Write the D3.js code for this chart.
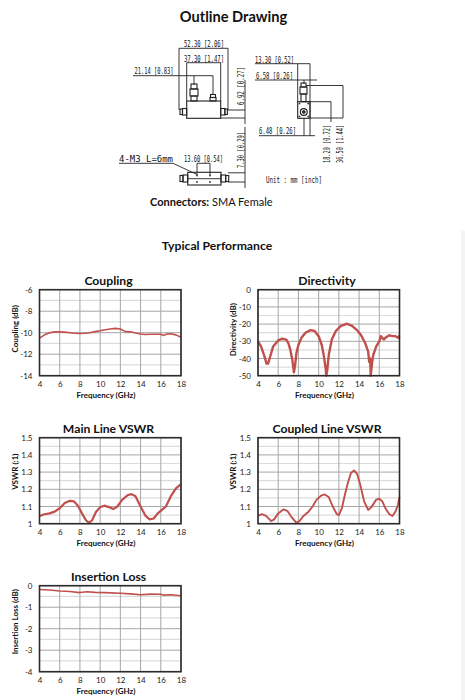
<!DOCTYPE html>
<html>
<head>
<meta charset="utf-8">
<script src="https://cdn.jsdelivr.net/npm/d3@7"></script>
<style>
  html, body { margin: 0; padding: 0; background: #fff; }
  svg { display: block; }
  text { font-family: Lato, "Open Sans", sans-serif; fill: #111; }
  .tick text { font-size: 8px; fill: #222; font-weight: 400; }
  .dim { font-family: "DejaVu Sans Mono", monospace; font-size: 8.5px; fill: #111; }
</style>
</head>
<body>
<script>
var width = 465,
    height = 700;

var freqTicks = [4, 6, 8, 10, 12, 14, 16, 18];

var couplingFreq = [4, 4.5, 5, 5.5, 6, 6.5, 7, 7.5, 8, 8.5, 9, 9.5, 10, 10.5, 11, 11.5, 12, 12.5, 13, 13.5, 14, 14.5, 15, 15.5, 16, 16.3, 16.6, 17, 17.5, 18];
var couplingValues = [-10.5, -10.2, -10.0, -9.92, -9.92, -9.95, -10.0, -10.05, -10.07, -10.05, -10.0, -9.9, -9.82, -9.72, -9.65, -9.6, -9.65, -9.9, -9.92, -10.02, -10.12, -10.17, -10.15, -10.15, -10.15, -10.25, -10.12, -10.1, -10.2, -10.42];

var directivityFreq = [4, 4.3, 4.6, 4.85, 5, 5.2, 5.5, 6, 6.4, 6.8, 7, 7.2, 7.4, 7.55, 7.65, 7.8, 8, 8.3, 8.7, 9.2, 9.6, 10, 10.3, 10.5, 10.7, 10.75, 10.85, 11, 11.3, 11.7, 12.2, 12.8, 13.3, 13.8, 14.2, 14.6, 14.9, 15, 15.1, 15.15, 15.3, 15.4, 15.7, 16, 16.15, 16.3, 16.45, 16.6, 17, 17.3, 17.6, 17.85, 18];
var directivityValues = [-30, -33, -38, -43, -43, -39, -33, -29.5, -28.5, -29, -31, -35, -41, -48, -45, -37, -32, -28, -25, -23.5, -24, -27, -32, -38, -46, -50, -47, -38, -29, -24, -21, -19.8, -21, -23.5, -26.5, -31, -36, -42, -40, -50, -42, -38, -33, -30, -27, -28, -29, -28, -26.5, -27, -27, -28, -26.5];

var mainFreq = [4, 4.5, 5, 5.5, 6, 6.5, 7, 7.4, 7.8, 8.2, 8.6, 8.9, 9.2, 9.6, 10, 10.4, 10.8, 11.3, 11.7, 12.2, 12.7, 13.1, 13.5, 14, 14.5, 14.9, 15.3, 15.7, 16.2, 16.5, 17, 17.5, 18];
var mainValues = [1.045, 1.055, 1.06, 1.07, 1.09, 1.12, 1.133, 1.13, 1.105, 1.06, 1.02, 1.005, 1.02, 1.07, 1.095, 1.105, 1.098, 1.085, 1.10, 1.14, 1.165, 1.172, 1.16, 1.10, 1.045, 1.025, 1.03, 1.06, 1.085, 1.10, 1.16, 1.205, 1.23];

var coupledFreq = [4, 4.4, 4.8, 5.3, 5.6, 6, 6.5, 6.9, 7.3, 7.8, 8.1, 8.5, 9, 9.4, 9.8, 10.3, 10.6, 11, 11.4, 11.8, 12, 12.3, 12.6, 12.9, 13.2, 13.5, 13.8, 14.1, 14.5, 14.9, 15.2, 15.7, 16, 16.3, 16.6, 17, 17.3, 17.6, 17.85, 18];
var coupledValues = [1.045, 1.055, 1.045, 1.015, 1.025, 1.06, 1.083, 1.075, 1.04, 1.005, 1.015, 1.045, 1.07, 1.10, 1.14, 1.165, 1.17, 1.155, 1.10, 1.055, 1.05, 1.09, 1.17, 1.24, 1.295, 1.31, 1.29, 1.23, 1.13, 1.08, 1.095, 1.14, 1.145, 1.13, 1.09, 1.055, 1.045, 1.07, 1.11, 1.155];

var lossFreq = [4, 5, 6, 7, 8, 8.7, 9.5, 10.5, 12, 13, 14, 15, 16, 16.3, 17, 18];
var lossValues = [-0.18, -0.2, -0.25, -0.27, -0.32, -0.28, -0.31, -0.32, -0.35, -0.38, -0.42, -0.39, -0.4, -0.44, -0.42, -0.47];

var couplingTicks = [-6, -8, -10, -12, -14];
var directivityTicks = [0, -10, -20, -30, -40, -50];
var vswrTicks = [1.5, 1.4, 1.3, 1.2, 1.1, 1];
var lossTicks = [0, -1, -2, -3, -4];

var svg = d3.select("body").append("svg")
    .attr("width", width)
    .attr("height", height);

// strip of the next page panel, right edge
svg.append("rect")
    .attr("x", 461).attr("y", 231)
    .attr("width", 4).attr("height", 469)
    .attr("fill", "#f4f4f4");

function centered(txt, x, y, size, weight) {
  return svg.append("text")
      .attr("x", x).attr("y", y)
      .attr("text-anchor", "middle")
      .attr("font-size", size)
      .attr("font-weight", weight)
      .text(txt);
}

centered("Outline Drawing", 233.5, 22, 14.6, 700);
centered("Typical Performance", 217, 250, 12.2, 700);

var conn = svg.append("text").attr("x", 150).attr("y", 206).attr("font-size", 11);
conn.append("tspan").attr("font-weight", 700).text("Connectors:");
conn.append("tspan").text(" SMA Female");

/* ---- outline drawing ---- */
var drawing = svg.append("g")
    .attr("fill", "none")
    .attr("stroke", "#222")
    .attr("stroke-width", 0.9);

var dimLines = [
  // top view
  [[179, 110], [179, 48.3], [228, 48.3], [228, 110]],
  [[186.7, 101], [186.7, 62.7], [220.7, 62.7], [220.7, 101]],
  [[133, 75.7], [213, 75.7], [213, 95]],
  [[194, 75.7], [194, 85]],
  [[228, 110], [245, 110]],
  [[220.7, 118], [245, 118]],
  [[245, 80], [245, 124]],
  // side view
  [[255, 63.7], [310, 63.7]],
  [[297.7, 63.7], [297.7, 102]],
  [[310, 63.7], [310, 136]],
  [[255, 80], [317, 80]],
  [[304, 80], [304, 84]],
  [[259, 135.7], [315, 135.7]],
  [[304, 118], [304, 135.7]],
  [[306, 101.7], [331, 101.7], [331, 122]],
  [[306, 85.5], [343, 85.5], [343, 118], [310, 118]],
  // bottom view
  [[119, 163.3], [173, 163.3], [197, 174.5]],
  [[197, 175], [197, 163.3], [210, 163.3], [210, 175]],
  [[228, 172.8], [245, 172.8]],
  [[228, 182], [245, 182]],
  [[245, 127], [245, 188]]
];

var dimLine = d3.line();
drawing.selectAll("path.dim-line")
    .data(dimLines)
  .enter().append("path")
    .attr("class", "dim-line")
    .attr("d", dimLine);

// x, y, w, h
var parts = [
  [186.7, 101, 34, 17.3],
  [191, 84, 6, 5],
  [190, 89, 8, 7],
  [191, 96, 6, 5],
  [210.5, 94.5, 5, 3],
  [210, 97.5, 6, 3.5],
  [180, 109, 2.5, 5.5],
  [182.5, 108.5, 4.2, 6.5],
  [220.7, 108.5, 4.2, 6.5],
  [224.9, 109, 2.5, 5.5],
  [301, 83, 5, 4],
  [300, 87, 7, 7],
  [301, 94, 5, 7.7],
  [297.7, 101.7, 12.3, 16.6],
  [187.7, 172.3, 33.3, 12.7],
  [180, 175.5, 3, 6],
  [183, 175, 4.7, 7],
  [221, 175, 4.7, 7],
  [225.7, 175.5, 3, 6]
];

drawing.selectAll("rect")
    .data(parts)
  .enter().append("rect")
    .attr("x", function(d) { return d[0]; })
    .attr("y", function(d) { return d[1]; })
    .attr("width", function(d) { return d[2]; })
    .attr("height", function(d) { return d[3]; })
    .attr("stroke-width", 1.1);

drawing.append("path").attr("d", d3.line()([[187.7, 178.7], [221, 178.7]]));

drawing.append("circle").attr("cx", 303.8).attr("cy", 112).attr("r", 3.4).attr("stroke-width", 1.2);
drawing.append("circle").attr("cx", 303.8).attr("cy", 112).attr("r", 1.4).attr("fill", "#333");

var holes = [[197, 175.5], [210, 175.5], [197, 182], [210, 182], [299.5, 103.5], [308.2, 103.5], [299.5, 116.5], [308.2, 116.5]];
drawing.selectAll("circle.hole")
    .data(holes)
  .enter().append("circle")
    .attr("class", "hole")
    .attr("cx", function(d) { return d[0]; })
    .attr("cy", function(d) { return d[1]; })
    .attr("r", 0.9)
    .attr("fill", "#333")
    .attr("stroke", "none");

// label, x, y, length, rotated
var dimLabels = [
  ["52.30 [2.06]", 184, 47, 40, false],
  ["37.30 [1.47]", 184, 61.5, 40, false],
  ["21.14 [0.83]", 134.5, 74, 39, false],
  ["13.30 [0.52]", 255, 62.5, 39, false],
  ["6.58 [0.26]", 256, 78.5, 37, false],
  ["6.48 [0.26]", 259, 134, 37, false],
  ["13.60 [0.54]", 184, 161.5, 39, false],
  ["4-M3  L=6mm", 119, 161.5, 54, false],
  ["Unit : mm [inch]", 266, 183, 56, false],
  ["6.92 [0.27]", 243.5, 105, 38, true],
  ["7.30 [0.29]", 243.5, 168, 36, true],
  ["18.20 [0.72]", 330, 163, 38, true],
  ["36.50 [1.44]", 343, 163, 38, true]
];

svg.selectAll("text.dim")
    .data(dimLabels)
  .enter().append("text")
    .attr("class", "dim")
    .attr("transform", function(d) {
      return "translate(" + d[1] + "," + d[2] + ")" + (d[4] ? " rotate(-90)" : "");
    })
    .attr("textLength", function(d) { return d[3]; })
    .attr("lengthAdjust", "spacingAndGlyphs")
    .text(function(d) { return d[0]; });

/* ---- performance charts ---- */
function drawChart(o) {
  var x = d3.scaleLinear().domain([4, 18]).range([o.left, o.left + 141.5]);
  var y = d3.scaleLinear().domain(o.domain).range([o.top, o.top + 86]);
  var g = svg.append("g");

  // minor then major gridlines
  var minor = d3.pairs(o.ticks).map(function(p) { return (p[0] + p[1]) / 2; });
  g.selectAll("line.minor")
      .data(minor)
    .enter().append("line")
      .attr("x1", x(4)).attr("x2", x(18))
      .attr("y1", function(d) { return y(d); })
      .attr("y2", function(d) { return y(d); })
      .attr("stroke", "#dcdcdc")
      .attr("stroke-width", 1.2);

  g.selectAll("line.major")
      .data(o.ticks)
    .enter().append("line")
      .attr("x1", x(4)).attr("x2", x(18))
      .attr("y1", function(d) { return y(d); })
      .attr("y2", function(d) { return y(d); })
      .attr("stroke", "#a6a6a6")
      .attr("stroke-width", 1);

  g.selectAll("line.vert")
      .data(freqTicks)
    .enter().append("line")
      .attr("x1", function(d) { return x(d); })
      .attr("x2", function(d) { return x(d); })
      .attr("y1", y.range()[0]).attr("y2", y.range()[1])
      .attr("stroke", "#a6a6a6")
      .attr("stroke-width", 1);

  g.append("path")
      .datum(d3.zip(o.freq, o.values))
      .attr("fill", "none")
      .attr("stroke", "#c0504d")
      .attr("stroke-width", o.lineWidth)
      .attr("stroke-linejoin", "round")
      .attr("d", d3.line()
          .x(function(d) { return x(d[0]); })
          .y(function(d) { return y(d[1]); }));

  g.append("rect")
      .attr("x", x(4)).attr("y", o.top)
      .attr("width", x(18) - x(4)).attr("height", 86)
      .attr("fill", "none")
      .attr("stroke", "#2b2b2b")
      .attr("stroke-width", 1.6);

  var xAxis = g.append("g")
      .attr("transform", "translate(0," + (o.top + 86) + ")")
      .call(d3.axisBottom(x).tickValues(freqTicks).tickSize(0).tickPadding(6));
  xAxis.select(".domain").remove();

  var yAxis = g.append("g")
      .attr("transform", "translate(" + o.left + ",0)")
      .call(d3.axisLeft(y).tickValues(o.ticks).tickSize(0).tickPadding(7).tickFormat(String));
  yAxis.select(".domain").remove();

  g.append("text")
      .attr("x", o.left + 66.5).attr("y", o.top + 108)
      .attr("text-anchor", "middle")
      .attr("font-size", 8)
      .attr("font-weight", 700)
      .attr("fill", "#333")
      .text("Frequency (GHz)");

  g.append("text")
      .attr("transform", "translate(" + (o.left - 22) + "," + (o.top + o.ylabelY) + ") rotate(-90)")
      .attr("text-anchor", "middle")
      .attr("font-size", 8)
      .attr("font-weight", 700)
      .text(o.ylabel);

  centered(o.title, o.left + 69, o.top - 5, 12.2, 700);
}

drawChart({ title: "Coupling", ylabel: "Coupling (dB)", ylabelY: 39, lineWidth: 1.6, left: 39.5, top: 289.7, domain: [-6, -14], ticks: couplingTicks, freq: couplingFreq, values: couplingValues });
drawChart({ title: "Directivity", ylabel: "Directivity (dB)", ylabelY: 40, lineWidth: 2.4, left: 258, top: 289.7, domain: [0, -50], ticks: directivityTicks, freq: directivityFreq, values: directivityValues });
drawChart({ title: "Main Line VSWR", ylabel: "VSWR (:1)", ylabelY: 34, lineWidth: 2.2, left: 39.5, top: 437.7, domain: [1.5, 1], ticks: vswrTicks, freq: mainFreq, values: mainValues });
drawChart({ title: "Coupled Line VSWR", ylabel: "VSWR (:1)", ylabelY: 34, lineWidth: 1.9, left: 258, top: 437.7, domain: [1.5, 1], ticks: vswrTicks, freq: coupledFreq, values: coupledValues });
drawChart({ title: "Insertion Loss", ylabel: "Insertion  Loss (dB)", ylabelY: 36, lineWidth: 1.6, left: 39.5, top: 585.7, domain: [0, -4], ticks: lossTicks, freq: lossFreq, values: lossValues });
</script>
</body>
</html>
